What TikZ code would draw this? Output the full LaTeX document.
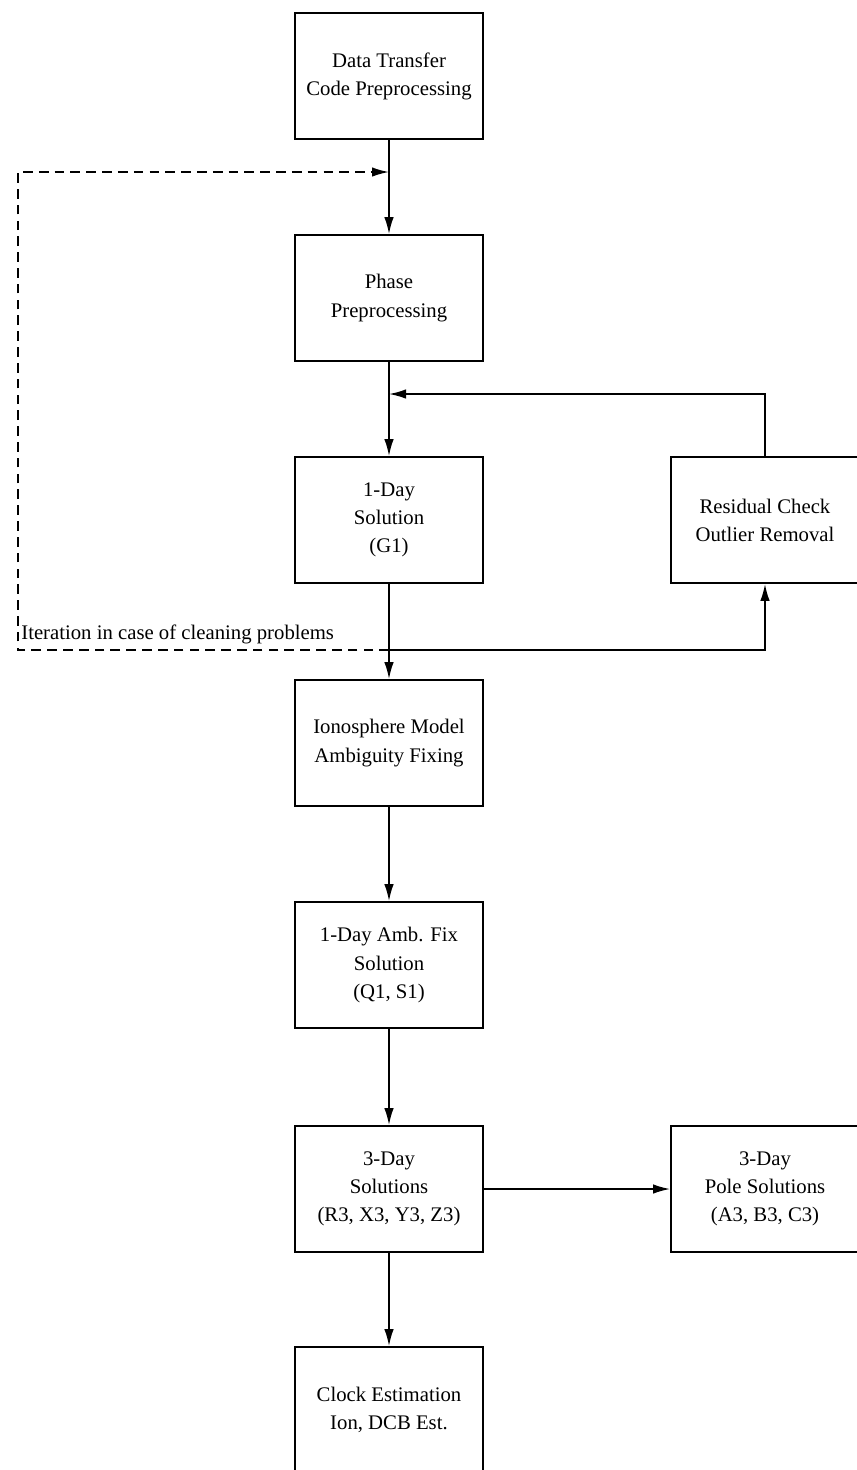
\documentclass[tikz,border=0pt]{standalone}
\usepackage{fontspec}
\setmainfont{Liberation Serif}
\usetikzlibrary{arrows.meta}

\begin{document}
\begin{tikzpicture}[
  font=\fontsize{11.8}{16}\selectfont,
  box/.style={draw, line width=1pt, align=center, minimum width=3.76cm, minimum height=2.52cm, inner sep=2pt},
  arr/.style={-{Latex[length=3.4mm, width=1.9mm]}, line width=1pt},
  iter/.style={arr, dashed, dash pattern=on 5.5pt off 3.5pt}]
\useasboundingbox (0,0) rectangle (17.14,-29.4);
% main column
\node[box] (dtc) at (7.78,-1.52) {Data Transfer\\Code Preprocessing};
\node[box] (php) at (7.78,-5.96) {Phase\\Preprocessing};
\node[box] (g1) at (7.78,-10.40) {1-Day\\Solution\\(G1)};
\node[box] (ion) at (7.78,-14.86) {Ionosphere Model\\Ambiguity Fixing};
\node[box] (q1) at (7.78,-19.30) {1-Day Amb. Fix\\Solution\\(Q1, S1)};
\node[box] (r3) at (7.78,-23.78) {3-Day\\Solutions\\(R3, X3, Y3, Z3)};
\node[box] (clk) at (7.78,-28.20) {Clock Estimation\\Ion, DCB Est.};
% side boxes
\node[box] (res) at (15.30,-10.40) {Residual Check\\Outlier Removal};
\node[box] (pole) at (15.30,-23.78) {3-Day\\Pole Solutions\\(A3, B3, C3)};
% junctions
\coordinate (it) at (7.78,-3.44);
\coordinate (fb) at (7.78,-7.88);
\coordinate (jn) at (7.78,-13.00);
\coordinate (dl) at (0.36,-13.00);
\draw[arr] (dtc) -- (php);
\draw[arr] (php) -- (g1);
\draw[arr] (g1) -- (ion);
\draw[arr] (ion) -- (q1);
\draw[arr] (q1) -- (r3);
\draw[arr] (r3) -- (clk);
\draw[arr] (r3) -- (pole);
% cleaning loop
\draw[arr] (jn) -| (res.south);
\draw[arr] (res.north) |- (fb);
\draw[iter] (jn) -- (dl) |- (it);
\node[anchor=base west, inner sep=0pt] (lbl) at (0.42,-12.78) {Iteration in case of cleaning problems};
\end{tikzpicture}
\end{document}
